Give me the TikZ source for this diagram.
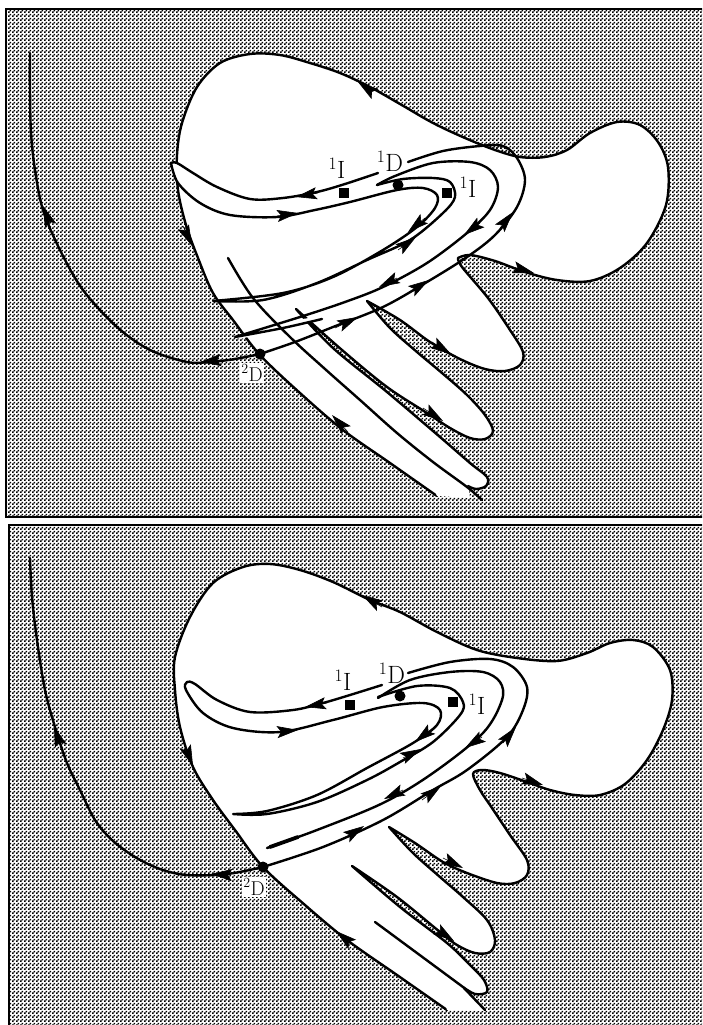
\documentclass[tikz,border=0pt]{standalone}
\usepackage{tikz}
\usetikzlibrary{arrows.meta, patterns}
\pgfdeclarepatternformonly{halftone}{\pgfqpoint{0pt}{0pt}}{\pgfqpoint{4pt}{4pt}}{\pgfqpoint{4pt}{4pt}}{
  \pgfpathrectangle{\pgfqpoint{0pt}{0pt}}{\pgfqpoint{1.9pt}{1.9pt}}
  \pgfpathrectangle{\pgfqpoint{2pt}{2pt}}{\pgfqpoint{1.9pt}{1.9pt}}
  \pgfusepath{fill}}

\begin{document}
\begin{tikzpicture}[
  x=1pt, y=-1pt,
  panel/.style={draw, line width=1.3pt, pattern=halftone, pattern color=black},
  orbit/.style={line width=2.4pt, line cap=round, line join=round},
  flowtip/.style={-{Stealth[length=21pt, width=12pt, inset=4pt]}, line width=0.6pt},
  statelabel/.style={font=\fontsize{25pt}{25pt}\selectfont, inner sep=0pt},
  smalllabel/.style={font=\fontsize{20pt}{20pt}\selectfont, fill=white, inner sep=1.5pt},
  fixedpt/.style={circle, fill, inner sep=0pt, minimum size=11pt},
  squarept/.style={rectangle, fill, inner sep=0pt, minimum size=10pt},
  curved/.style={smooth, tension=0.55},
]
  \useasboundingbox (0,0) rectangle (702,1025);
  \clip (0,0) rectangle (702,1025);

  \path[panel] (6,9) rectangle (710,517);
  \draw[orbit, fill=white] plot[curved] coordinates {(437,496) (390,463) (343,430) (300,393) (260,355) (233,320) (213,293) (198,258) (186,225) (178,190) (177,155) (182,123) (197,87) (220,63) (250,54) (280,55) (310,63) (340,73) (370,87) (400,104) (433,123) (465,138) (495,150) (520,157) (545,157) (567,150) (590,133) (617,122) (640,125) (658,142) (668,167) (666,205) (647,243) (620,268) (590,281) (557,280) (525,272) (495,261) (470,255) (458,258)}
    -- plot[curved] coordinates {(458,258) (462,267) (488,298) (510,330) (523,352) (520,365) (505,371) (485,369) (460,359) (430,342) (400,320) (367,301)}
    -- plot[curved] coordinates {(367,301) (390,328) (417,352) (442,373) (467,395) (485,415) (493,431) (485,439) (470,438) (450,428) (427,413) (387,387) (342,350) (296,309)}
    -- plot[curved] coordinates {(296,309) (333,348) (387,392) (440,437) (470,463) (487,477) (486,486) (476,489) (468,486)};
  \fill[white] (437,496) -- (470,498) -- (468,486) -- (430,480) -- cycle;
  \path[panel, draw=none] plot[smooth, tension=0.5] coordinates {(478,144) (497,144) (507,147) (517,157) (497,150)} -- cycle;
  \draw[orbit, fill=white] plot[curved] coordinates {(378,173) (345,184) (317,192) (283,198) (250,199) (217,187) (193,173) (177,163) (171,163)}
    -- plot[curved] coordinates {(171,163) (178,183) (200,203) (230,215) (277,217) (315,210) (350,202) (397,190) (423,188) (437,195) (435,208) (417,227) (383,250) (333,277) (283,293) (213,301)}
    -- plot[curved] coordinates {(213,301) (263,300) (317,283) (367,260) (410,240) (443,213) (455,197) (450,182) (433,178) (403,179) (377,185)};
  \fill[white] (235,337) -- (283,322) -- (322,316) -- (322,319) -- (240,339) -- cycle;
  \draw[orbit] plot[curved] coordinates {(377,185) (395,176) (433,163) (470,162) (490,170) (498,187) (490,210) (467,233) (427,263) (383,287) (345,302) (300,317) (235,337)}
    -- plot[curved] coordinates {(235,337) (283,328) (322,319)};
  \draw[orbit] plot[curved] coordinates {(408,162) (443,151) (480,146) (503,146) (517,158) (525,180) (517,207) (495,235) (467,257) (427,282) (383,307) (333,327) (295,342) (260,354)};
  \draw[orbit] plot[curved] coordinates {(228,258) (253,298) (290,337) (325,369) (360,400) (397,433) (433,462) (467,487) (482,500)};
  \draw[orbit] plot[curved] coordinates {(260,354) (235,359) (210,362) (187,362) (150,350) (117,327) (83,290) (60,250) (43,210) (35,170) (31,133) (30,90) (30,53)};

  \foreach \bx/\by/\tx/\ty in {50/224/43/206, 222/360/200/362, 183/226/192/246, 372/92/358/82, 318/193/296/197, 277/216/298/213, 425/218/408/232, 398/250/416/237, 480/223/464/235, 500/228/513/212, 397/278/379/287, 410/292/429/280, 335/328/358/317, 513/267/534/273, 432/342/451/354, 423/408/443/421, 348/432/332/415}
    \draw[flowtip] (\bx,\by) -- (\tx,\ty);

  \node[statelabel] (leftI) at (337,168) {\textsuperscript{1}I};
  \node[statelabel] (midD) at (390,161) {\textsuperscript{1}D};
  \node[statelabel] (rightI) at (468,187) {\textsuperscript{1}I};
  \node[smalllabel] (lowD) at (252,373) {\textsuperscript{2}D};
  \node[squarept] (leftsq) at (344,193) {};
  \node[squarept] (rightsq) at (447,193) {};
  \node[fixedpt] (middot) at (398,185) {};
  \node[fixedpt] (lowdot) at (260,354) {};

  \path[panel] (9,525) rectangle (710,1035);
  \draw[orbit, fill=white] plot[curved] coordinates {(447,1010) (397,975) (347,940) (305,905) (263,867) (235,830) (213,800) (193,767) (180,727) (175,690) (175,657) (190,617) (213,583) (243,567) (270,564) (300,570) (333,582) (370,600) (400,612) (437,632) (477,650) (517,658) (557,661) (587,653) (610,643) (633,640) (653,647) (670,670) (672,700) (663,730) (647,760) (625,784) (600,795) (575,795) (550,790) (527,782) (500,773) (482,770) (473,774) (480,790) (492,808) (510,835) (527,860) (527,875) (515,883) (497,883) (467,873) (443,862) (415,843) (389,827)}
    -- plot[curved] coordinates {(389,827) (413,853) (440,877) (463,897) (487,920) (495,940) (490,952) (475,953) (457,945) (440,932) (397,897) (352,866)}
    -- plot[curved] coordinates {(352,866) (400,907) (447,943) (470,965) (484,980) (487,992) (475,994) (463,987)};
  \fill[white] (447,1010) -- (485,1011) -- (463,987) -- (440,985) -- cycle;
  \draw[orbit] plot[curved] coordinates {(382,685) (350,695) (323,703) (293,710) (250,712) (217,700) (195,684) (187,682) (186,690) (203,713) (233,728) (280,732) (333,720) (383,707) (423,703) (440,710) (437,725) (413,743) (367,768) (317,795) (267,811) (233,814)}
    -- plot[curved] coordinates {(233,814) (267,814) (317,802) (367,780) (400,762) (433,742) (460,715) (463,702) (450,688) (417,686) (378,697)};
  \draw[orbit] plot[curved] coordinates {(378,698) (410,680) (450,672) (483,672) (500,682) (502,700) (483,733) (433,773) (383,803) (317,830) (267,848)};
  \draw[orbit, line width=3.8pt] (270,847) -- (298,837);
  \draw[orbit] plot[curved] coordinates {(408,673) (450,662) (490,659) (513,667) (527,687) (523,710) (507,737) (467,770) (433,790) (383,820) (323,847) (263,867)};
  \draw[orbit] (375,922) -- (463,987) -- (485,1010);
  \draw[orbit] plot[curved] coordinates {(263,867) (227,874) (187,875) (160,869) (135,857) (112,840) (95,820) (80,790) (67,763) (55,727) (45,690) (37,640) (32,597) (30,558)};

  \foreach \bx/\by/\tx/\ty in {60/744/54/726, 230/875/211/874, 185/746/193/766, 382/607/362/595, 327/703/305/707, 278/732/298/730, 433/728/415/742, 403/758/421/749, 482/737/465/748, 503/743/516/727, 403/790/384/799, 422/800/441/786, 345/838/364/826, 522/778/543/785, 443/858/463/868, 435/928/454/941, 353/945/336/931}
    \draw[flowtip] (\bx,\by) -- (\tx,\ty);

  \node[statelabel] (leftIb) at (343,680) {\textsuperscript{1}I};
  \node[statelabel] (midDb) at (392,673) {\textsuperscript{1}D};
  \node[statelabel] (rightIb) at (477,704) {\textsuperscript{1}I};
  \node[smalllabel] (lowDb) at (254,887) {\textsuperscript{2}D};
  \node[squarept] (leftsqb) at (350,705) {};
  \node[squarept] (rightsqb) at (453,702) {};
  \node[fixedpt] (middotb) at (400,696) {};
  \node[fixedpt] (lowdotb) at (263,867) {};
\end{tikzpicture}
\end{document}
